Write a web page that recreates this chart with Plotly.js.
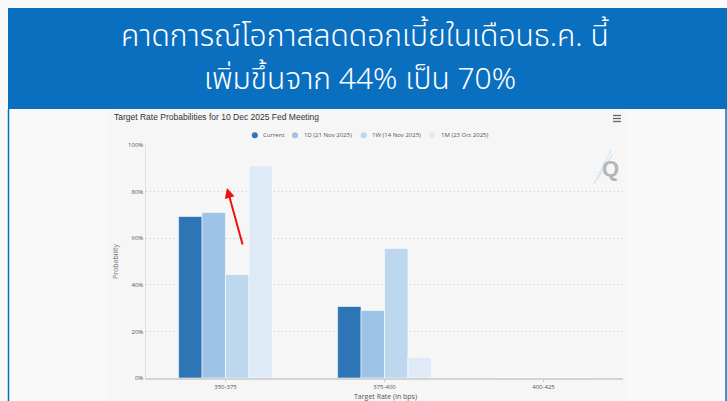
<!DOCTYPE html>
<html>
<head>
<meta charset="utf-8">
<script src="https://cdn.plot.ly/plotly-3.0.1.min.js"></script>
<style>html,body{margin:0;padding:0;background:#f9f9f9;}#chart{width:727px;height:401px;}</style>
</head>
<body>
<div id="chart"></div>
<script>
const categories = ["350-375", "375-400", "400-425"];
const seriesNames = ["Current", "1D (21 Nov 2025)", "1W (14 Nov 2025)", "1M (23 Oct 2025)"];
const current = [69.3, 30.7, 0];
const oneDay = [71.0, 29.0, 0];
const oneWeek = [44.4, 55.6, 0];
const oneMonth = [91.1, 8.9, 0];
const seriesColors = ["#2e75b6", "#9dc3e6", "#bdd7ee", "#deebf7"];
const yTicks = [0, 20, 40, 60, 80, 100];
const headline1 = "คาดการณ์โอกาสลดดอกเบี้ยในเดือนธ.ค. นี้";
const headline2 = "เพิ่มขึ้นจาก 44% เป็น 70%";
const chartTitle = "Target Rate Probabilities for 10 Dec 2025 Fed Meeting";
const xTitle = "Target Rate (in bps)";

const seriesValues = [current, oneDay, oneWeek, oneMonth];
const traces = seriesValues.map((vals, i) => ({
  type: "bar", x: categories, y: vals, name: seriesNames[i],
  marker: {color: seriesColors[i], line: {color: "rgba(255,255,255,0.7)", width: 0.8}},
  showlegend: false, hoverinfo: "x+y"
}));

const W = 727, H = 401, L = 146, R = 623, T = 145, B = 378;
const px = v => (v - L) / (R - L);
const py = v => (B - v) / (B - T);

// manual legend (circle + label)
const legendMarkerX = [254.8, 295, 363.7, 432.3];
const legendY = 135.3;
const legendShapes = seriesNames.map((n, i) => ({
  type: "circle", xref: "paper", yref: "paper",
  x0: px(legendMarkerX[i] - 3), x1: px(legendMarkerX[i] + 3),
  y0: py(legendY + 3), y1: py(legendY - 3),
  fillcolor: seriesColors[i], line: {width: 0}
}));
const legendTexts = seriesNames.map((n, i) => ({
  xref: "paper", yref: "paper", x: px(legendMarkerX[i] + 6.5), y: py(legendY),
  text: n, showarrow: false, xanchor: "left", yanchor: "middle",
  font: {family: "Open Sans, sans-serif", size: 6, color: "#555"}
}));

const layout = {
  width: W, height: H,
  margin: {l: L, r: W - R, t: T, b: H - B, pad: 0},
  paper_bgcolor: "#f9f9f9",
  plot_bgcolor: "rgba(0,0,0,0)",
  barmode: "group", bargap: 0.41, bargroupgap: 0,
  font: {family: "Open Sans, sans-serif", color: "#666"},
  showlegend: false,
  xaxis: {
    type: "category", showgrid: false, zeroline: false,
    showline: true, linecolor: "#d3d3d3", linewidth: 2,
    ticks: "outside", ticklen: 2, tickcolor: "#ccc",
    tickfont: {size: 6, color: "#555"},
    fixedrange: true
  },
  yaxis: {
    range: [0, 100], tickvals: yTicks, ticktext: yTicks.map(v => v + "%"),
    showgrid: true, gridcolor: "#c8c8c8", griddash: "1px,3px", gridwidth: 1,
    zeroline: false, showline: true, linecolor: "#e2e2e2", linewidth: 1.5,
    tickfont: {size: 6, color: "#555"},
    title: {text: "Probability", font: {size: 7, color: "#777"}, standoff: 8},
    fixedrange: true
  },
  shapes: [
    {type: "rect", xref: "paper", yref: "paper", x0: px(108), x1: px(627), y0: py(401), y1: py(109), fillcolor: "#f6f6f6", line: {width: 0}, layer: "below"},
    {type: "rect", xref: "paper", yref: "paper", x0: px(8), x1: px(727), y0: py(109), y1: py(8), fillcolor: "#0b6fbf", line: {width: 0}, layer: "below"},
    {type: "line", xref: "paper", yref: "paper", x0: px(8.5), x1: px(8.5), y0: py(401), y1: py(109), line: {color: "#0b6fbf", width: 1.5}},
    {type: "line", xref: "paper", yref: "paper", x0: px(726), x1: px(726), y0: py(401), y1: py(109), line: {color: "#0b6fbf", width: 1.5}},
    {type: "line", xref: "paper", yref: "paper", x0: px(613), x1: px(621), y0: py(115.5), y1: py(115.5), line: {color: "#666", width: 1.3}},
    {type: "line", xref: "paper", yref: "paper", x0: px(613), x1: px(621), y0: py(118.5), y1: py(118.5), line: {color: "#666", width: 1.3}},
    {type: "line", xref: "paper", yref: "paper", x0: px(613), x1: px(621), y0: py(121.5), y1: py(121.5), line: {color: "#666", width: 1.3}},
    {type: "line", xref: "paper", yref: "paper", x0: px(594), x1: px(611), y0: py(184), y1: py(150), line: {color: "#d3ebf8", width: 1.5}},
    {type: "line", xref: "paper", yref: "paper", x0: px(597), x1: px(612), y0: py(180), y1: py(155), line: {color: "#c2e2f5", width: 1}},
    {type: "line", xref: "paper", yref: "paper", x0: px(593), x1: px(606), y0: py(172), y1: py(172), line: {color: "#dff0fa", width: 1}},
    ...legendShapes
  ],
  annotations: [
    {xref: "paper", yref: "paper", x: px(365), y: py(37), text: headline1, showarrow: false,
     font: {family: "Noto Sans Thai, Noto Sans, sans-serif", size: 30, weight: 300, color: "#ffffff"}, xanchor: "center", yanchor: "middle"},
    {xref: "paper", yref: "paper", x: px(360), y: py(80), text: headline2, showarrow: false,
     font: {family: "Noto Sans Thai, Noto Sans, sans-serif", size: 30, weight: 300, color: "#ffffff"}, xanchor: "center", yanchor: "middle"},
    {xref: "paper", yref: "paper", x: px(112), y: py(117), text: chartTitle, showarrow: false,
     font: {family: "Liberation Sans, Arial, sans-serif", size: 8.5, color: "#333"}, xanchor: "left", yanchor: "middle"},
    {xref: "paper", yref: "paper", x: px(385), y: py(396), text: xTitle, showarrow: false,
     font: {family: "Open Sans, sans-serif", size: 7, color: "#555"}, xanchor: "center", yanchor: "middle"},
    {xref: "paper", yref: "paper", x: px(610), y: py(168), text: "<b>Q</b>", showarrow: false,
     font: {family: "Liberation Sans, Arial, sans-serif", size: 22, color: "#b5b5b5"}, xanchor: "center", yanchor: "middle"},
    {xref: "paper", yref: "paper", x: px(227), y: py(188), text: "", showarrow: true,
     axref: "pixel", ayref: "pixel", ax: 16, ay: 58, arrowcolor: "#ee1111", arrowwidth: 2, arrowhead: 2, arrowsize: 1},
    ...legendTexts
  ]
};

Plotly.newPlot("chart", traces, layout, {displayModeBar: false, staticPlot: true});
</script>
</body>
</html>
